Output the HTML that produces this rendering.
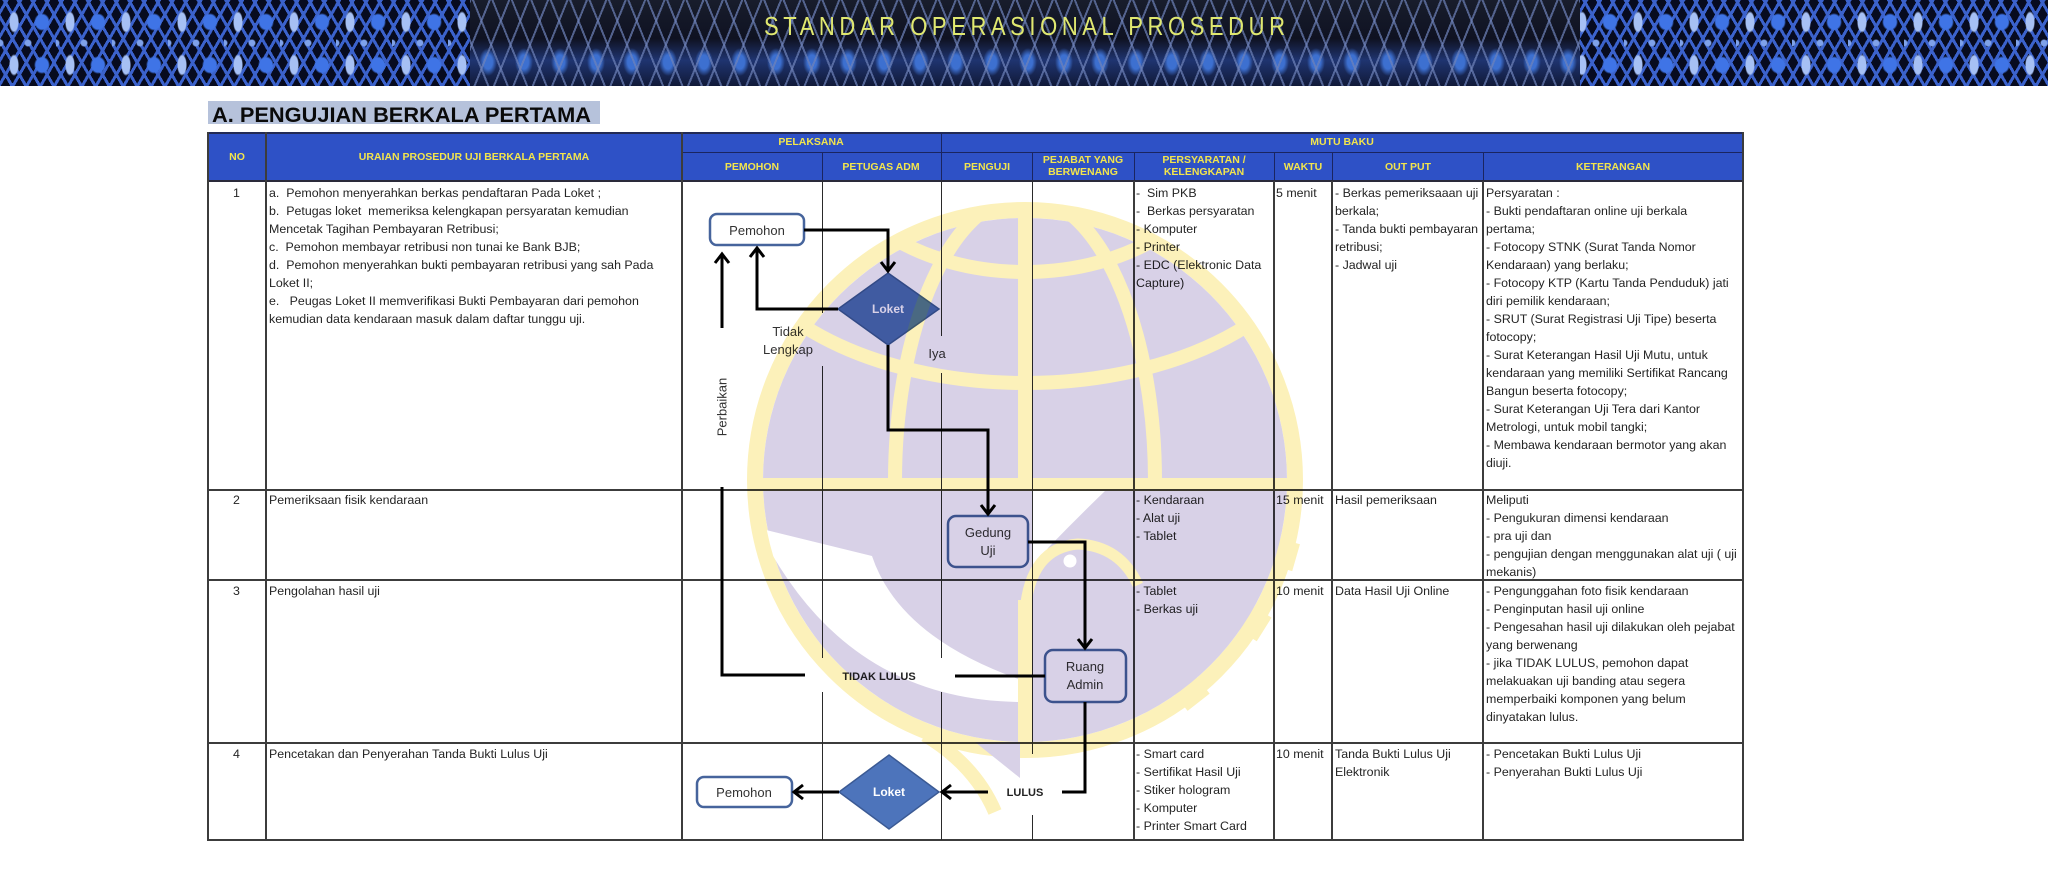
<!DOCTYPE html>
<html><head><meta charset="utf-8">
<style>
*{margin:0;padding:0;box-sizing:border-box}
html,body{width:2048px;height:896px;overflow:hidden;background:#fff}
body{position:relative;font-family:"Liberation Sans",Arial,sans-serif}
.banner{position:absolute;left:0;top:0;width:2048px;height:86px;overflow:hidden;background-color:#070b1f;
background-image:
 radial-gradient(ellipse 5px 11px at 14px 22px,#a6c0f4 80%,rgba(166,192,244,0) 100%),
 radial-gradient(ellipse 8px 9px at 42px 22px,#3f74e6 78%,rgba(63,116,230,0) 100%),
 radial-gradient(circle 4px at 28px 43px,#7fa2ea 70%,rgba(127,162,234,0) 100%),
 radial-gradient(circle 4px at 0px 43px,#7fa2ea 70%,rgba(127,162,234,0) 100%),
 repeating-linear-gradient(60deg,rgba(0,0,0,0) 0 9px,#3b62cc 9px 12px),
 repeating-linear-gradient(-60deg,rgba(0,0,0,0) 0 9px,#3b62cc 9px 12px);
background-size:56px 43px,56px 43px,56px 86px,56px 86px,auto,auto;}
.photo{position:absolute;left:470px;top:0;width:1110px;height:86px;
background-image:
 repeating-linear-gradient(68deg,rgba(0,0,0,0) 0 16px,rgba(110,130,185,.7) 16px 18px),
 repeating-linear-gradient(-68deg,rgba(0,0,0,0) 0 16px,rgba(110,130,185,.7) 16px 18px),
 radial-gradient(ellipse 9px 14px at 18px 62px,#3d70d0 50%,rgba(61,112,208,0) 100%),
 linear-gradient(#181d2c 0,#0f1222 45%,#1f3470 70%,#111a38 100%);
background-size:auto,auto,36px 86px,auto;}
.v{position:absolute;width:2px;background:#3c3c3c}
.h{position:absolute;height:2px;background:#3c3c3c}
.vt{position:absolute;width:1.3px;background:#2a2a2a}
.hv{position:absolute;width:1px;background:#1a2560}
.t{position:absolute;font-size:12.4px;line-height:18px;color:#242424;white-space:nowrap}
.n{position:absolute;left:207px;width:59px;text-align:center;font-size:12.4px;line-height:18px;color:#242424}
.hd{position:absolute;font-weight:bold;font-size:10.5px;color:#f3e54c;text-align:center;line-height:12px;white-space:nowrap;transform:translate(-50%,-50%)}
</style></head>
<body>
<div class="banner"></div>
<div class="photo"></div>
<svg style="position:absolute;left:0;top:0" width="2048" height="130">
<text transform="translate(764,35) scale(1,1.18)" x="0" y="0" font-family="Liberation Sans, Arial, sans-serif" font-size="22" fill="#e0e870" textLength="521" lengthAdjust="spacing">STANDAR OPERASIONAL PROSEDUR</text>
<rect x="208" y="101" width="392" height="23" fill="#b6c2db"/>
<text x="212" y="122" font-family="Liberation Sans, Arial, sans-serif" font-weight="bold" font-size="21" fill="#0a0a0a" textLength="379" lengthAdjust="spacingAndGlyphs">A. PENGUJIAN BERKALA PERTAMA</text>
</svg>

<!-- header -->
<div style="position:absolute;left:207px;top:133px;width:1537px;height:48px;background:#2e51c6"></div>
<div class="h" style="left:207px;top:132px;width:1537px;background:#222a55"></div>
<div style="position:absolute;left:682px;top:152px;width:1062px;height:1px;background:#1a2560"></div>
<div class="hv" style="left:822px;top:152px;height:29px"></div>
<div class="hv" style="left:941px;top:133px;height:48px"></div>
<div class="hv" style="left:1032px;top:152px;height:29px"></div>
<div class="hv" style="left:1134px;top:152px;height:29px"></div>
<div class="hv" style="left:1274px;top:152px;height:29px"></div>
<div class="hv" style="left:1332px;top:152px;height:29px"></div>
<div class="hv" style="left:1483px;top:152px;height:29px"></div>

<div class="hd" style="left:237px;top:157px">NO</div>
<div class="hd" style="left:474px;top:157px">URAIAN PROSEDUR UJI BERKALA PERTAMA</div>
<div class="hd" style="left:811px;top:142px">PELAKSANA</div>
<div class="hd" style="left:1342px;top:142px">MUTU BAKU</div>
<div class="hd" style="left:752px;top:167px">PEMOHON</div>
<div class="hd" style="left:881px;top:167px">PETUGAS ADM</div>
<div class="hd" style="left:987px;top:167px">PENGUJI</div>
<div class="hd" style="left:1083px;top:166px">PEJABAT YANG<br>BERWENANG</div>
<div class="hd" style="left:1204px;top:166px">PERSYARATAN /<br>KELENGKAPAN</div>
<div class="hd" style="left:1303px;top:167px">WAKTU</div>
<div class="hd" style="left:1408px;top:167px">OUT PUT</div>
<div class="hd" style="left:1613px;top:167px">KETERANGAN</div>

<!-- grid -->
<div class="h" style="left:207px;top:180px;width:1537px;background:#2a2a3a"></div>
<div class="h" style="left:207px;top:489px;width:1537px"></div>
<div class="h" style="left:207px;top:579px;width:1537px"></div>
<div class="h" style="left:207px;top:742px;width:1537px"></div>
<div class="h" style="left:207px;top:839px;width:1537px"></div>
<div class="v" style="left:207px;top:132px;height:709px"></div>
<div class="v" style="left:265px;top:132px;height:709px"></div>
<div class="v" style="left:681px;top:132px;height:709px"></div>
<div class="v" style="left:1133px;top:181px;height:660px"></div>
<div class="v" style="left:1273px;top:181px;height:660px"></div>
<div class="v" style="left:1331px;top:181px;height:660px"></div>
<div class="v" style="left:1482px;top:181px;height:660px"></div>
<div class="v" style="left:1742px;top:132px;height:709px"></div>
<div class="vt" style="left:822px;top:181px;height:132px"></div>
<div class="vt" style="left:822px;top:366px;height:292px"></div>
<div class="vt" style="left:822px;top:692px;height:148px"></div>
<div class="vt" style="left:941px;top:181px;height:155px"></div>
<div class="vt" style="left:941px;top:373px;height:285px"></div>
<div class="vt" style="left:941px;top:692px;height:148px"></div>
<div class="vt" style="left:1032px;top:181px;height:573px"></div>
<div class="vt" style="left:1032px;top:815px;height:25px"></div>

<!-- row 1 -->
<div class="n" style="top:183.5px">1</div>
<div class="t" style="left:269px;top:183.5px">a.&nbsp; Pemohon menyerahkan berkas pendaftaran Pada Loket ;<br>b.&nbsp; Petugas loket&nbsp; memeriksa kelengkapan persyaratan kemudian<br>Mencetak Tagihan Pembayaran Retribusi;<br>c.&nbsp; Pemohon membayar retribusi non tunai ke Bank BJB;<br>d.&nbsp; Pemohon menyerahkan bukti pembayaran retribusi yang sah Pada<br>Loket II;<br>e.&nbsp;&nbsp; Peugas Loket II memverifikasi Bukti Pembayaran dari pemohon<br>kemudian data kendaraan masuk dalam daftar tunggu uji.</div>
<div class="t" style="left:1136px;top:183.5px">-&nbsp; Sim PKB<br>-&nbsp; Berkas persyaratan<br>- Komputer<br>- Printer<br>- EDC (Elektronic Data<br>Capture)</div>
<div class="t" style="left:1276px;top:183.5px">5 menit</div>
<div class="t" style="left:1335px;top:183.5px">- Berkas pemeriksaaan uji<br>berkala;<br>- Tanda bukti pembayaran<br>retribusi;<br>- Jadwal uji</div>
<div class="t" style="left:1486px;top:183.5px">Persyaratan :<br>- Bukti pendaftaran online uji berkala<br>pertama;<br>- Fotocopy STNK (Surat Tanda Nomor<br>Kendaraan) yang berlaku;<br>- Fotocopy KTP (Kartu Tanda Penduduk) jati<br>diri pemilik kendaraan;<br>- SRUT (Surat Registrasi Uji Tipe) beserta<br>fotocopy;<br>- Surat Keterangan Hasil Uji Mutu, untuk<br>kendaraan yang memiliki Sertifikat Rancang<br>Bangun beserta fotocopy;<br>- Surat Keterangan Uji Tera dari Kantor<br>Metrologi, untuk mobil tangki;<br>- Membawa kendaraan bermotor yang akan<br>diuji.</div>

<!-- row 2 -->
<div class="n" style="top:491px">2</div>
<div class="t" style="left:269px;top:491px">Pemeriksaan fisik kendaraan</div>
<div class="t" style="left:1136px;top:491px">- Kendaraan<br>- Alat uji<br>- Tablet</div>
<div class="t" style="left:1276px;top:491px">15 menit</div>
<div class="t" style="left:1335px;top:491px">Hasil pemeriksaan</div>
<div class="t" style="left:1486px;top:491px">Meliputi<br>- Pengukuran dimensi kendaraan<br>- pra uji dan<br>- pengujian dengan menggunakan alat uji ( uji<br>mekanis)</div>

<!-- row 3 -->
<div class="n" style="top:582px">3</div>
<div class="t" style="left:269px;top:582px">Pengolahan hasil uji</div>
<div class="t" style="left:1136px;top:582px">- Tablet<br>- Berkas uji</div>
<div class="t" style="left:1276px;top:582px">10 menit</div>
<div class="t" style="left:1335px;top:582px">Data Hasil Uji Online</div>
<div class="t" style="left:1486px;top:582px">- Pengunggahan foto fisik kendaraan<br>- Penginputan hasil uji online<br>- Pengesahan hasil uji dilakukan oleh pejabat<br>yang berwenang<br>- jika TIDAK LULUS, pemohon dapat<br>melakuakan uji banding atau segera<br>memperbaiki komponen yang belum<br>dinyatakan lulus.</div>

<!-- row 4 -->
<div class="n" style="top:745px">4</div>
<div class="t" style="left:269px;top:745px">Pencetakan dan Penyerahan Tanda Bukti Lulus Uji</div>
<div class="t" style="left:1136px;top:745px">- Smart card<br>- Sertifikat Hasil Uji<br>- Stiker hologram<br>- Komputer<br>- Printer Smart Card</div>
<div class="t" style="left:1276px;top:745px">10 menit</div>
<div class="t" style="left:1335px;top:745px">Tanda Bukti Lulus Uji<br>Elektronik</div>
<div class="t" style="left:1486px;top:745px">- Pencetakan Bukti Lulus Uji<br>- Penyerahan Bukti Lulus Uji</div>

<!-- flowchart -->
<svg style="position:absolute;left:0;top:0" width="2048" height="896" font-family="Liberation Sans, Arial, sans-serif">
<g fill="#fff" stroke="#46649c" stroke-width="2.5">
<rect x="710" y="214" width="94" height="31" rx="7"/>
<rect x="948" y="516" width="80" height="51" rx="8"/>
<rect x="1045" y="650" width="81" height="52" rx="8"/>
<rect x="697" y="777" width="95" height="30" rx="7"/>
</g>
<polygon points="888,273 939,309 888,345 838,309" fill="#4b6fb2" stroke="#3b5a94" stroke-width="1.5"/>
<polygon points="889,755 939,792 889,829 839,792" fill="#4d74bb" stroke="#3b5a94" stroke-width="1.5"/>
<g fill="none" stroke="#000" stroke-width="3" stroke-linejoin="miter">
<polyline points="804,230 888,230 888,270"/>
<polyline points="881,262 888,271 895,262"/>
<polyline points="838,309 757,309 757,249"/>
<polyline points="750,257 757,248 764,257"/>
<polyline points="722,328 722,255"/>
<polyline points="715,263 722,254 729,263"/>
<polyline points="888,345 888,430 988,430 988,513"/>
<polyline points="981,505 988,514 995,505"/>
<polyline points="1028,542 1085,542 1085,647"/>
<polyline points="1078,639 1085,648 1092,639"/>
<line x1="1045" y1="676" x2="955" y2="676"/>
<polyline points="805,675 722,675 722,487"/>
<polyline points="1085,702 1085,792 1062,792"/>
<line x1="988" y1="792" x2="943" y2="792"/>
<polyline points="951,785 942,792 951,799"/>
<line x1="839" y1="792" x2="795" y2="792"/>
<polyline points="803,785 794,792 803,799"/>
</g>
<g font-size="13" fill="#333" text-anchor="middle">
<text x="757" y="235">Pemohon</text>
<text x="744" y="797">Pemohon</text>
<text x="988" y="537">Gedung</text>
<text x="988" y="555">Uji</text>
<text x="1085" y="671">Ruang</text>
<text x="1085" y="689">Admin</text>
<text x="788" y="336">Tidak</text>
<text x="788" y="354">Lengkap</text>
<text x="937" y="358">Iya</text>
<text x="722" y="411.5" transform="rotate(-90 722 407)">Perbaikan</text>
</g>
<g font-size="12" fill="#fff" font-weight="bold" text-anchor="middle">
<text x="888" y="313">Loket</text>
<text x="889" y="796">Loket</text>
</g>
<g font-size="11" fill="#222" font-weight="bold" text-anchor="middle">
<text x="879" y="680">TIDAK LULUS</text>
<text x="1025" y="796">LULUS</text>
</g>
</svg>

<!-- watermark -->
<svg style="position:absolute;left:0;top:0;mix-blend-mode:multiply;pointer-events:none" width="2048" height="896">
<defs>
<clipPath id="gc"><circle cx="1025" cy="480" r="263"/></clipPath>
<clipPath id="up"><rect x="700" y="190" width="700" height="300"/></clipPath>
</defs>
<g fill="#fcf1ba">
<rect x="1275" y="466" width="32" height="28" transform="rotate(16 1025 480)"/>
<rect x="1275" y="466" width="32" height="28" transform="rotate(32 1025 480)"/>
<rect x="1275" y="466" width="32" height="28" transform="rotate(52 1025 480)"/>
</g>
<circle cx="1025" cy="480" r="270" fill="none" stroke="#fcf1ba" stroke-width="16"/>
<circle cx="1025" cy="480" r="262" fill="#d8d1e7"/>
<g clip-path="url(#gc)">
<g fill="none" stroke="#fcf1ba" stroke-width="14" clip-path="url(#up)">
<line x1="1025" y1="200" x2="1025" y2="490"/>
<ellipse cx="1025" cy="481" rx="130" ry="285"/>
<ellipse cx="1025" cy="135" rx="200" ry="137"/>
<ellipse cx="1025" cy="208" rx="300" ry="175"/>
</g>
<rect x="740" y="478" width="580" height="13" fill="#fcf1ba"/>
<path d="M758,528 L872,556 Q900,640 1030,683 L1030,702 Q845,705 758,528 Z" fill="#fff"/>
<path d="M1032,491 L1105,491 Q1075,520 1048,548 L1032,575 Z" fill="#fff"/>
<path d="M1025,612 Q1030,548 1078,544 Q1120,546 1138,585" fill="none" stroke="#fcf1ba" stroke-width="11"/>
<circle cx="1070" cy="561" r="6.5" fill="#fff"/>
<line x1="1025" y1="600" x2="1025" y2="760" stroke="#fcf1ba" stroke-width="14"/>
</g>
<polygon points="975,742 1020,742 1020,778" fill="#d8d1e7"/>
<path d="M925,735 Q975,765 995,812" fill="none" stroke="#fcf1ba" stroke-width="14"/>
</svg>
</body></html>
